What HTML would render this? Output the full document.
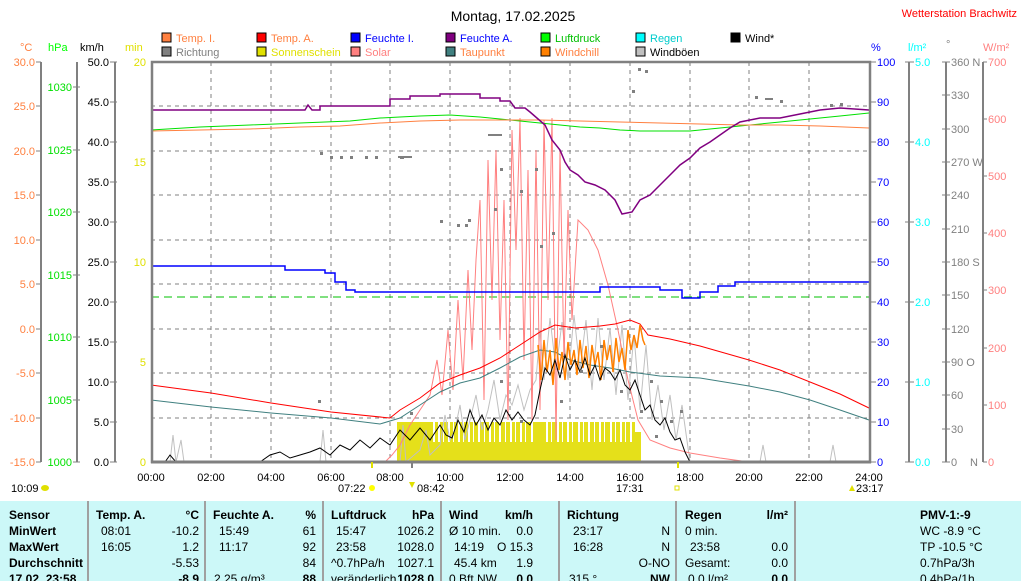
<!DOCTYPE html>
<html><head><meta charset="utf-8"><style>
body{margin:0;background:#fff;}
svg{display:block;font-family:"Liberation Sans",sans-serif;}
.tb{position:absolute;left:0;top:501px;width:1021px;height:80px;background:#ccf8f8;font-family:"Liberation Sans",sans-serif;font-size:12px;color:#000;}
.r{position:absolute;white-space:nowrap;}
.sep{position:absolute;top:0;width:2px;height:80px;background:#a0a0a0;}
b{font-weight:bold;}
</style></head><body>
<div style="position:relative;width:1021px;height:581px;overflow:hidden">
<svg width="1021" height="501" viewBox="0 0 1021 501">
<text x="513" y="21" font-size="14" text-anchor="middle" fill="#000">Montag, 17.02.2025</text>
<text x="1017" y="17" font-size="11" text-anchor="end" fill="#ff0000">Wetterstation Brachwitz</text>
<g font-size="11">
<rect x="162" y="33" width="9" height="9" fill="#ff8040" stroke="#000"/><text x="176" y="42" fill="#ff8040">Temp. I.</text>
<rect x="257" y="33" width="9" height="9" fill="#ff0000" stroke="#000"/><text x="271" y="42" fill="#ff8040">Temp. A.</text>
<rect x="351" y="33" width="9" height="9" fill="#0000ff" stroke="#000"/><text x="365" y="42" fill="#0000ff">Feuchte I.</text>
<rect x="446" y="33" width="9" height="9" fill="#800080" stroke="#000"/><text x="460" y="42" fill="#0000ff">Feuchte A.</text>
<rect x="541" y="33" width="9" height="9" fill="#00ff00" stroke="#000"/><text x="555" y="42" fill="#00c000">Luftdruck</text>
<rect x="636" y="33" width="9" height="9" fill="#00ffff" stroke="#000"/><text x="650" y="42" fill="#00cccc">Regen</text>
<rect x="731" y="33" width="9" height="9" fill="#000" stroke="#000"/><text x="745" y="42" fill="#000">Wind*</text>
<rect x="162" y="47" width="9" height="9" fill="#808080" stroke="#000"/><text x="176" y="56" fill="#808080">Richtung</text>
<rect x="257" y="47" width="9" height="9" fill="#e0e000" stroke="#000"/><text x="271" y="56" fill="#e0e000">Sonnenschein</text>
<rect x="351" y="47" width="9" height="9" fill="#ff8080" stroke="#000"/><text x="365" y="56" fill="#ff8080">Solar</text>
<rect x="446" y="47" width="9" height="9" fill="#408080" stroke="#000"/><text x="460" y="56" fill="#ff8040">Taupunkt</text>
<rect x="541" y="47" width="9" height="9" fill="#ff8000" stroke="#000"/><text x="555" y="56" fill="#ff8040">Windchill</text>
<rect x="636" y="47" width="9" height="9" fill="#c0c0c0" stroke="#000"/><text x="650" y="56" fill="#000">Windböen</text>
</g>
<g font-size="11">
<text x="20" y="51" fill="#ff8040">°C</text><text x="48" y="51" fill="#00ff00">hPa</text><text x="80" y="51" fill="#000">km/h</text><text x="125" y="51" fill="#e0e000">min</text>
<text x="871" y="51" fill="#0000ff">%</text><text x="908" y="51" fill="#00ffff">l/m²</text><text x="946" y="48" fill="#808080">°</text><text x="983" y="51" fill="#ff8080">W/m²</text>
</g>
<g stroke="#808080" stroke-width="2" fill="none">
<line x1="41" y1="62" x2="41" y2="462"/><line x1="77" y1="62" x2="77" y2="462"/><line x1="115" y1="62" x2="115" y2="462"/>
<line x1="909" y1="62" x2="909" y2="462"/><line x1="946" y1="62" x2="946" y2="462"/><line x1="983" y1="62" x2="983" y2="462"/>
</g>
<g stroke="#808080" stroke-dasharray="4,4" stroke-width="1">
<line x1="211" y1="62" x2="211" y2="462"/><line x1="271" y1="62" x2="271" y2="462"/><line x1="331" y1="62" x2="331" y2="462"/><line x1="390" y1="62" x2="390" y2="462"/><line x1="450" y1="62" x2="450" y2="462"/><line x1="510" y1="62" x2="510" y2="462"/><line x1="570" y1="62" x2="570" y2="462"/><line x1="630" y1="62" x2="630" y2="462"/><line x1="690" y1="62" x2="690" y2="462"/><line x1="749" y1="62" x2="749" y2="462"/><line x1="809" y1="62" x2="809" y2="462"/>
<line x1="151" y1="106" x2="869" y2="106"/><line x1="151" y1="151" x2="869" y2="151"/><line x1="151" y1="195" x2="869" y2="195"/><line x1="151" y1="240" x2="869" y2="240"/><line x1="151" y1="284" x2="869" y2="284"/><line x1="151" y1="329" x2="869" y2="329"/><line x1="151" y1="373" x2="869" y2="373"/><line x1="151" y1="418" x2="869" y2="418"/>
</g>
<line x1="151" y1="297" x2="869" y2="297" stroke="#00c000" stroke-dasharray="8,5"/>
<rect x="397" y="422" width="244" height="40" fill="#e5e01a"/>
<g fill="#fff">
<rect x="433" y="422" width="2" height="20"/><rect x="438" y="422" width="2" height="20"/><rect x="443" y="422" width="1" height="20"/><rect x="448" y="422" width="2" height="20"/><rect x="453" y="422" width="1" height="20"/><rect x="458" y="422" width="2" height="20"/><rect x="463" y="422" width="1" height="20"/><rect x="468" y="422" width="2" height="20"/><rect x="473" y="422" width="1" height="20"/><rect x="478" y="422" width="2" height="20"/><rect x="484" y="422" width="1" height="20"/><rect x="489" y="422" width="2" height="20"/><rect x="494" y="422" width="1" height="20"/><rect x="499" y="422" width="2" height="20"/><rect x="505" y="422" width="1" height="20"/><rect x="510" y="422" width="2" height="20"/><rect x="515" y="422" width="1" height="20"/><rect x="520" y="422" width="2" height="20"/><rect x="525" y="422" width="1" height="20"/><rect x="531" y="422" width="2" height="20"/><rect x="546" y="422" width="2" height="20"/><rect x="551" y="422" width="1" height="20"/><rect x="557" y="422" width="2" height="20"/><rect x="562" y="422" width="1" height="20"/><rect x="567" y="422" width="2" height="20"/><rect x="572" y="422" width="1" height="20"/><rect x="578" y="422" width="2" height="20"/><rect x="583" y="422" width="1" height="20"/><rect x="588" y="422" width="2" height="20"/><rect x="594" y="422" width="1" height="20"/><rect x="599" y="422" width="2" height="20"/><rect x="604" y="422" width="1" height="20"/><rect x="610" y="422" width="2" height="20"/><rect x="615" y="422" width="1" height="20"/><rect x="620" y="422" width="2" height="20"/><rect x="625" y="422" width="1" height="20"/><rect x="630" y="422" width="2" height="20"/><rect x="635" y="422" width="6" height="10"/>
</g>
<g fill="none" stroke-width="1">
<polyline stroke="#c0c0c0" points="151,462 170,462 173,435 176,462 181,440 184,462 320,462 323,430 326,462 400,462 403,425 406,462 420,450 426,430 430,455 440,445 445,415 450,440 455,430 460,405 465,440 470,420 476,395 482,430 488,410 494,380 500,420 506,395 512,405 518,385 524,410 530,390 536,380 540,330 544,380 550,318 556,370 562,322 568,380 574,315 580,370 586,320 592,390 598,318 604,380 610,328 616,395 622,325 628,400 634,335 640,410 646,345 652,420 658,385 664,430 670,395 676,440 682,405 690,462 760,462 763,445 766,462 830,462 833,445 836,462 869,462"/>
<polyline stroke="#ff8080" points="151,462 385,462 392,455 400,445 410,425 420,410 430,395 437,360 442,395 448,330 453,390 458,300 463,380 468,270 472,350 476,260 480,200 484,400 488,160 492,300 496,150 500,340 504,200 508,420 512,130 516,250 520,118 524,360 528,170 532,420 536,150 540,410 544,120 548,300 552,118 556,440 560,150 564,360 568,210 572,320 578,220 588,230 598,250 608,285 618,330 628,380 638,420 650,440 670,448 690,453 720,458 749,462 869,462"/>
<polyline stroke="#408080" points="151,400 211,407 271,413 331,418 380,424 400,418 420,405 440,392 460,383 480,378 500,368 520,357 540,350 555,352 570,360 590,365 610,368 630,372 660,376 700,378 749,386 780,392 810,400 840,410 869,420"/>
<polyline stroke="#ff0000" points="151,385 211,393 271,403 331,412 390,418 400,410 420,398 440,383 460,375 480,368 500,358 520,345 540,332 555,325 575,328 600,326 615,324 630,320 640,324 648,335 670,339 700,346 749,360 780,370 810,382 840,394 869,408"/>
<polyline stroke="#ff8000" stroke-width="1.5" points="538,345 541,380 544,340 547,372 550,350 553,385 556,338 559,370 562,352 565,380 568,342 571,365 574,350 577,375 580,340 583,368 586,346 589,378 592,345 595,365 598,352 601,380 604,340 607,360 610,345 613,372 616,338 619,362 622,348 625,370 628,330 631,350 634,335 637,348 640,325 643,340 645,345"/>
<polyline stroke="#000" points="151,462 165,462 170,455 176,462 230,462 260,462 270,455 280,452 290,458 300,455 310,452 320,448 330,455 340,445 350,450 360,440 370,448 380,438 390,445 400,430 410,440 420,428 430,440 440,425 446,435 452,438 458,420 464,432 470,410 476,425 482,415 488,430 494,418 500,425 506,410 512,420 518,412 524,420 530,425 535,415 540,390 545,368 550,375 555,360 560,378 565,355 570,370 575,360 580,372 585,358 590,375 595,365 600,380 605,368 610,372 615,380 620,370 625,385 630,390 635,380 640,395 645,410 650,405 655,420 660,425 665,418 670,432 675,440 680,438 685,452 690,462 869,462"/>
<polyline stroke="#00e000" points="151,130 200,127 250,125 300,123 350,121 380,118 400,117 420,116 450,115 480,117 510,120 540,123 560,125 580,127 600,128 620,130 640,131 660,131 690,131 720,128 750,125 780,122 810,119 840,116 869,113"/>
<polyline stroke="#ff8040" points="151,131 200,130 250,129 300,127 340,126 380,123 420,121 460,120 500,120 540,120 580,121 620,122 660,123 700,124 740,125 780,125 820,126 869,128"/>
<polyline stroke="#0000ff" stroke-width="1.5" points="151,266 285,266 285,270 325,270 325,273 335,273 335,282 346,282 346,290 355,290 355,292 600,292 600,287 660,287 660,290 682,290 682,298 700,298 700,292 718,292 718,286 735,286 735,282 869,282"/>
<polyline stroke="#800080" stroke-width="1.5" points="151,110 305,110 308,105 312,110 320,110 320,106 390,106 390,99 410,99 410,96 440,96 440,94 480,94 480,98 500,98 500,101 510,101 515,108 525,108 530,112 545,125 552,140 560,150 565,162 570,170 578,175 585,182 595,185 605,190 615,200 622,214 632,212 640,200 650,195 660,185 670,175 680,165 690,158 700,148 710,142 720,135 730,128 740,122 750,120 760,118 780,118 800,114 820,110 840,108 869,110"/>
</g>
<g fill="#808080">
<rect x="320" y="152" width="3" height="3"/><rect x="330" y="156" width="3" height="3"/><rect x="340" y="156" width="3" height="3"/><rect x="350" y="156" width="3" height="3"/><rect x="365" y="156" width="3" height="3"/><rect x="375" y="156" width="3" height="3"/><rect x="398" y="156" width="14" height="2"/><rect x="400" y="157" width="4" height="2"/>
<rect x="440" y="220" width="3" height="3"/><rect x="457" y="224" width="3" height="3"/><rect x="465" y="224" width="3" height="3"/><rect x="468" y="219" width="3" height="3"/><rect x="488" y="134" width="14" height="2"/><rect x="500" y="168" width="3" height="3"/><rect x="494" y="208" width="3" height="3"/><rect x="520" y="190" width="3" height="3"/><rect x="535" y="168" width="3" height="3"/><rect x="540" y="245" width="3" height="3"/><rect x="552" y="232" width="3" height="3"/>
<rect x="638" y="68" width="3" height="3"/><rect x="645" y="70" width="3" height="3"/><rect x="632" y="90" width="3" height="3"/><rect x="755" y="96" width="3" height="3"/><rect x="765" y="98" width="8" height="2"/><rect x="780" y="100" width="3" height="3"/><rect x="840" y="103" width="3" height="3"/><rect x="830" y="104" width="3" height="3"/>
<rect x="318" y="400" width="3" height="3"/><rect x="410" y="412" width="3" height="3"/><rect x="500" y="380" width="3" height="3"/><rect x="520" y="420" width="3" height="3"/><rect x="560" y="400" width="3" height="3"/><rect x="580" y="370" width="3" height="3"/><rect x="600" y="345" width="3" height="3"/><rect x="620" y="390" width="3" height="3"/><rect x="640" y="410" width="3" height="3"/><rect x="660" y="400" width="3" height="3"/><rect x="670" y="420" width="3" height="3"/><rect x="680" y="410" width="3" height="3"/><rect x="655" y="435" width="3" height="3"/><rect x="650" y="380" width="3" height="3"/>
</g>
<rect x="152" y="62" width="718" height="400" fill="none" stroke="#808080" stroke-width="2.5"/>
<line x1="151" y1="462" x2="871" y2="462" stroke="#808080" stroke-width="3"/>
<g font-size="11" text-anchor="end">
<g fill="#ff8040">
<text x="35" y="66">30.0</text><text x="35" y="110">25.0</text><text x="35" y="155">20.0</text><text x="35" y="199">15.0</text><text x="35" y="244">10.0</text><text x="35" y="288">5.0</text><text x="35" y="333">0.0</text><text x="35" y="377">-5.0</text><text x="35" y="422">-10.0</text><text x="35" y="466">-15.0</text>
</g>
<g fill="#00e000">
<text x="72" y="91">1030</text><text x="72" y="154">1025</text><text x="72" y="216">1020</text><text x="72" y="279">1015</text><text x="72" y="341">1010</text><text x="72" y="404">1005</text><text x="72" y="466">1000</text>
</g>
<g fill="#000">
<text x="109" y="66">50.0</text><text x="109" y="106">45.0</text><text x="109" y="146">40.0</text><text x="109" y="186">35.0</text><text x="109" y="226">30.0</text><text x="109" y="266">25.0</text><text x="109" y="306">20.0</text><text x="109" y="346">15.0</text><text x="109" y="386">10.0</text><text x="109" y="426">5.0</text><text x="109" y="466">0.0</text>
</g>
<g fill="#e0e000">
<text x="146" y="66">20</text><text x="146" y="166">15</text><text x="146" y="266">10</text><text x="146" y="366">5</text><text x="146" y="466">0</text>
</g>
</g>
<g stroke="#808080" stroke-width="1">
<path d="M36 62H41M36 106H41M36 151H41M36 195H41M36 240H41M36 284H41M36 329H41M36 373H41M36 418H41M36 462H41"/>
<path d="M73 87H80M73 150H80M73 212H80M73 275H80M73 337H80M73 400H80M73 462H80"/>
<path d="M110 62H117M110 102H117M110 142H117M110 182H117M110 222H117M110 262H117M110 302H117M110 342H117M110 382H117M110 422H117M110 462H117"/>
<path d="M871 62H876M871 102H876M871 142H876M871 182H876M871 222H876M871 262H876M871 302H876M871 342H876M871 382H876M871 422H876M871 462H876"/>
<path d="M905 62H914M905 142H914M905 222H914M905 302H914M905 382H914M905 462H914"/>
<path d="M942 62H950M942 95H950M942 129H950M942 162H950M942 195H950M942 229H950M942 262H950M942 295H950M942 329H950M942 362H950M942 395H950M942 429H950M942 462H950"/>
<path d="M983 62H987M983 119H987M983 176H987M983 233H987M983 290H987M983 348H987M983 405H987M983 462H987"/>
</g>
<g font-size="11">
<g fill="#0000ff">
<text x="877" y="66">100</text><text x="877" y="106">90</text><text x="877" y="146">80</text><text x="877" y="186">70</text><text x="877" y="226">60</text><text x="877" y="266">50</text><text x="877" y="306">40</text><text x="877" y="346">30</text><text x="877" y="386">20</text><text x="877" y="426">10</text><text x="877" y="466">0</text>
</g>
<g fill="#00ffff">
<text x="915" y="66">5.0</text><text x="915" y="146">4.0</text><text x="915" y="226">3.0</text><text x="915" y="306">2.0</text><text x="915" y="386">1.0</text><text x="915" y="466">0.0</text>
</g>
<g fill="#808080">
<text x="951" y="66">360 N</text><text x="951" y="99">330</text><text x="951" y="133">300</text><text x="951" y="166">270 W</text><text x="951" y="199">240</text><text x="951" y="233">210</text><text x="951" y="266">180 S</text><text x="951" y="299">150</text><text x="951" y="333">120</text><text x="951" y="366">90  O</text><text x="951" y="399">60</text><text x="951" y="433">30</text><text x="951" y="466">0</text><text x="970" y="466">N</text>
</g>
<g fill="#ff8080">
<text x="988" y="66">700</text><text x="988" y="123">600</text><text x="988" y="180">500</text><text x="988" y="237">400</text><text x="988" y="294">300</text><text x="988" y="352">200</text><text x="988" y="409">100</text><text x="988" y="466">0</text>
</g>
</g>
<g font-size="11" fill="#000" text-anchor="middle">
<text x="151" y="481">00:00</text><text x="211" y="481">02:00</text><text x="271" y="481">04:00</text><text x="331" y="481">06:00</text><text x="390" y="481">08:00</text><text x="450" y="481">10:00</text><text x="510" y="481">12:00</text><text x="570" y="481">14:00</text><text x="630" y="481">16:00</text><text x="690" y="481">18:00</text><text x="749" y="481">20:00</text><text x="809" y="481">22:00</text><text x="869" y="481">24:00</text>
</g>
<g font-size="11" fill="#000">
<text x="11" y="492">10:09</text><ellipse cx="45" cy="488" rx="4" ry="3" fill="#e0e000"/>
<text x="338" y="492">07:22</text><circle cx="372" cy="488" r="3" fill="#ffff00"/>
<text x="417" y="492">08:42</text><path d="M409 482l3 6 3-6z" fill="#e0e000"/>
<text x="616" y="492">17:31</text><rect x="675" y="486" width="4" height="4" fill="none" stroke="#e0e000"/>
<text x="856" y="492">23:17</text><path d="M849 491l3-6 3 6z" fill="#e0e000"/>
</g>
<rect x="371" y="462" width="2" height="6" fill="#e0e000"/><rect x="677" y="462" width="2" height="6" fill="#e0e000"/><rect x="411" y="462" width="2" height="6" fill="#808080"/>
</svg>
<div class="tb">
<div class="sep" style="left:87px"></div><div class="sep" style="left:204px"></div><div class="sep" style="left:322px"></div><div class="sep" style="left:440px"></div><div class="sep" style="left:558px"></div><div class="sep" style="left:675px"></div><div class="sep" style="left:794px"></div>
<div class="r" style="left:9px;top:7px"><b>Sensor</b></div><div class="r" style="left:9px;top:23px"><b>MinWert</b></div><div class="r" style="left:9px;top:39px"><b>MaxWert</b></div><div class="r" style="left:9px;top:55px"><b>Durchschnitt</b></div><div class="r" style="left:9px;top:71px"><b>17.02. 23:58</b></div>
<div class="r" style="left:96px;top:7px"><b>Temp. A.</b></div><div class="r" style="right:822px;top:7px"><b>°C</b></div>
<div class="r" style="left:101px;top:23px">08:01</div><div class="r" style="right:822px;top:23px">-10.2</div>
<div class="r" style="left:101px;top:39px">16:05</div><div class="r" style="right:822px;top:39px">1.2</div>
<div class="r" style="right:822px;top:55px">-5.53</div><div class="r" style="right:822px;top:71px"><b>-8.9</b></div>
<div class="r" style="left:213px;top:7px"><b>Feuchte A.</b></div><div class="r" style="right:705px;top:7px"><b>%</b></div>
<div class="r" style="left:219px;top:23px">15:49</div><div class="r" style="right:705px;top:23px">61</div>
<div class="r" style="left:219px;top:39px">11:17</div><div class="r" style="right:705px;top:39px">92</div>
<div class="r" style="right:705px;top:55px">84</div><div class="r" style="left:214px;top:71px">2.25 g/m³</div><div class="r" style="right:705px;top:71px"><b>88</b></div>
<div class="r" style="left:331px;top:7px"><b>Luftdruck</b></div><div class="r" style="right:587px;top:7px"><b>hPa</b></div>
<div class="r" style="left:336px;top:23px">15:47</div><div class="r" style="right:587px;top:23px">1026.2</div>
<div class="r" style="left:336px;top:39px">23:58</div><div class="r" style="right:587px;top:39px">1028.0</div>
<div class="r" style="left:331px;top:55px">^0.7hPa/h</div><div class="r" style="right:587px;top:55px">1027.1</div>
<div class="r" style="left:331px;top:71px">veränderlich</div><div class="r" style="right:587px;top:71px"><b>1028.0</b></div>
<div class="r" style="left:449px;top:7px"><b>Wind</b></div><div class="r" style="right:488px;top:7px"><b>km/h</b></div>
<div class="r" style="left:449px;top:23px">Ø 10 min.</div><div class="r" style="right:488px;top:23px">0.0</div>
<div class="r" style="left:454px;top:39px">14:19</div><div class="r" style="right:488px;top:39px">O 15.3</div>
<div class="r" style="left:454px;top:55px">45.4 km</div><div class="r" style="right:488px;top:55px">1.9</div>
<div class="r" style="left:449px;top:71px">0 Bft NW</div><div class="r" style="right:488px;top:71px"><b>0.0</b></div>
<div class="r" style="left:567px;top:7px"><b>Richtung</b></div>
<div class="r" style="left:573px;top:23px">23:17</div><div class="r" style="right:351px;top:23px">N</div>
<div class="r" style="left:573px;top:39px">16:28</div><div class="r" style="right:351px;top:39px">N</div>
<div class="r" style="right:351px;top:55px">O-NO</div><div class="r" style="left:569px;top:71px">315 °</div><div class="r" style="right:351px;top:71px"><b>NW</b></div>
<div class="r" style="left:685px;top:7px"><b>Regen</b></div><div class="r" style="right:233px;top:7px"><b>l/m²</b></div>
<div class="r" style="left:685px;top:23px">0 min.</div>
<div class="r" style="left:690px;top:39px">23:58</div><div class="r" style="right:233px;top:39px">0.0</div>
<div class="r" style="left:685px;top:55px">Gesamt:</div><div class="r" style="right:233px;top:55px">0.0</div>
<div class="r" style="left:688px;top:71px">0.0 l/m²</div><div class="r" style="right:233px;top:71px"><b>0.0</b></div>
<div class="r" style="left:920px;top:7px"><b>PMV-1:-9</b></div>
<div class="r" style="left:920px;top:23px">WC -8.9 °C</div>
<div class="r" style="left:920px;top:39px">TP -10.5 °C</div>
<div class="r" style="left:920px;top:55px">0.7hPa/3h</div>
<div class="r" style="left:920px;top:71px">0.4hPa/1h</div>
</div>
</div>
</body></html>
